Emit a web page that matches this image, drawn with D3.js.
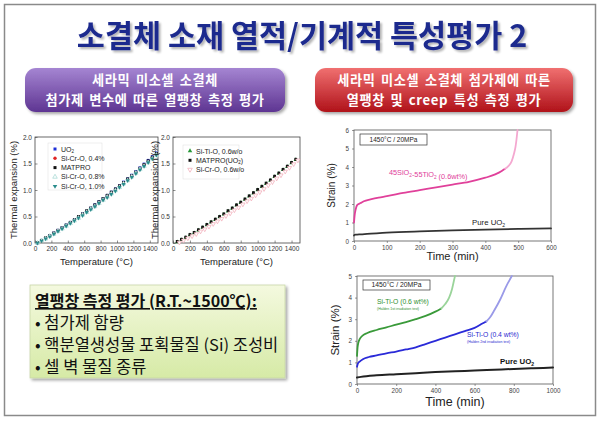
<!DOCTYPE html>
<html><head><meta charset="utf-8">
<script src="https://cdn.jsdelivr.net/npm/d3@7"></script>
<style>
html,body{margin:0;padding:0;background:#fff;}
svg{display:block;}
</style>
</head><body>
<svg id="c" width="604" height="424"></svg>
<script>
// ---------- texts ----------
const titleText = "소결체 소재 열적/기계적 특성평가 2";
const leftButton = ["세라믹 미소셀 소결체", "첨가제 변수에 따른 열팽창 측정 평가"];
const rightButton = ["세라믹 미소셀 소결체 첨가제에 따른", "열팽창 및 creep 특성 측정 평가"];
const boxHeader = "열팽창 측정 평가 (R.T.~1500℃):";
const boxBullets = ["첨가제 함량", "핵분열생성물 포획물질 (Si) 조성비", "셀 벽 물질 종류"];

// ---------- thermal expansion chart 1 ----------
const thermTicksX = [0, 200, 400, 600, 800, 1000, 1200, 1400];
const thermTicksY = [0.0, 0.5, 1.0, 1.5, 2.0];
const thermT1 = [30,80,130,180,230,280,330,380,430,480,530,580,630,680,730,780,830,880,930,980,1030,1080,1130,1180,1230,1280,1330,1380,1430,1480];
const expUO2      = [0.00,0.05,0.09,0.14,0.19,0.24,0.29,0.34,0.39,0.44,0.49,0.55,0.60,0.66,0.72,0.78,0.84,0.90,0.96,1.02,1.08,1.15,1.21,1.28,1.35,1.42,1.49,1.56,1.63,1.70];
const expSiCr04   = [0.00,0.04,0.09,0.13,0.18,0.23,0.28,0.33,0.38,0.43,0.48,0.54,0.59,0.65,0.70,0.76,0.82,0.88,0.94,1.00,1.07,1.13,1.19,1.26,1.33,1.40,1.47,1.54,1.61,1.68];
const expMATPRO   = [0.01,0.05,0.10,0.14,0.19,0.24,0.29,0.34,0.39,0.44,0.50,0.55,0.61,0.66,0.72,0.78,0.84,0.90,0.96,1.02,1.08,1.14,1.21,1.27,1.34,1.41,1.48,1.55,1.62,1.69];
const expSiCr08   = [0.00,0.04,0.08,0.13,0.17,0.22,0.27,0.32,0.37,0.42,0.47,0.53,0.58,0.64,0.69,0.75,0.81,0.87,0.93,0.99,1.05,1.12,1.18,1.25,1.32,1.39,1.45,1.52,1.59,1.66];
const expSiCr10   = [0.00,0.04,0.08,0.12,0.17,0.22,0.27,0.32,0.37,0.42,0.47,0.52,0.58,0.63,0.69,0.75,0.81,0.86,0.92,0.98,1.05,1.11,1.18,1.24,1.31,1.38,1.45,1.52,1.59,1.66];
const legend1 = ["UO2", "Si-Cr-O, 0.4%", "MATPRO", "Si-Cr-O, 0.8%", "Si-Cr-O, 1.0%"];

// ---------- thermal expansion chart 2 ----------
const thermT2a = [50,100,150,200,250,300,350,400,450,500,550,600,650,700,750,800,850,900,950,1000,1050,1100,1150,1200,1250,1300,1350,1400,1450];
const expMATPRO2 = [0.03,0.07,0.11,0.16,0.20,0.25,0.30,0.35,0.40,0.45,0.50,0.55,0.61,0.66,0.72,0.77,0.83,0.89,0.95,1.01,1.07,1.13,1.19,1.26,1.32,1.39,1.45,1.52,1.58];
const expSiTi06  = [0.02,0.06,0.10,0.15,0.19,0.24,0.29,0.34,0.39,0.44,0.49,0.54,0.60,0.65,0.71,0.76,0.82,0.88,0.94,1.00,1.06,1.12,1.18,1.25,1.31,1.38,1.44,1.51,1.57];
const thermT2b = [75,125,175,225,275,325,375,425,475,525,575,625,675,725,775,825,875,925,975,1025,1075,1125,1175,1225,1275,1325,1375,1425,1475];
const expSiCr06  = [0.01,0.05,0.09,0.13,0.17,0.22,0.26,0.31,0.36,0.41,0.46,0.51,0.56,0.62,0.67,0.73,0.79,0.84,0.90,0.96,1.02,1.09,1.15,1.22,1.28,1.35,1.42,1.49,1.56];
const legend2 = ["Si-Ti-O, 0.6w/o", "MATPRO(UO2)", "Si-Cr-O, 0.6w/o"];

// ---------- creep chart 1 ----------
const creep1TicksX = [0, 100, 200, 300, 400, 500, 600];
const creep1TicksY = [0, 1, 2, 3, 4, 5, 6];
const c1TimeSiTi = [0,2,5,10,20,30,50,75,100,150,200,250,300,350,400,430,450,460];
const c1StrSiTi  = [1.0,1.4,1.7,1.95,2.05,2.15,2.25,2.35,2.42,2.6,2.75,2.9,3.05,3.2,3.42,3.6,3.78,3.9];
const c1TimeSiTiTail = [460,470,480,487,492,495,498];
const c1StrSiTiTail  = [3.9,4.05,4.3,4.7,5.1,5.5,6.0];
const c1TimeUO2 = [0,1,5,20,40,100,200,300,400,500,600];
const c1StrUO2  = [0.3,0.32,0.34,0.36,0.38,0.45,0.52,0.57,0.61,0.65,0.68];

// ---------- creep chart 2 ----------
const creep2TicksX = [0, 200, 400, 600, 800, 1000];
const creep2TicksY = [0, 1, 2, 3, 4, 5];
const c2TimeG = [0,3,8,15,30,50,100,150,200,250,300,350,400,430];
const c2StrG  = [1.3,1.7,1.95,2.1,2.25,2.35,2.5,2.62,2.75,2.87,3.0,3.15,3.35,3.5];
const c2TimeGTail = [430,450,470,485,495,500];
const c2StrGTail  = [3.5,3.7,4.0,4.4,4.8,5.0];
const c2TimeB = [0,5,15,30,60,100,150,200,250,300,350,400,450,500,550,600,640,660];
const c2StrB  = [0.8,0.95,1.05,1.15,1.25,1.32,1.42,1.5,1.6,1.7,1.85,2.0,2.15,2.3,2.45,2.6,2.8,2.9];
const c2TimeBTail = [660,680,700,730,760,790];
const c2StrBTail  = [2.9,3.1,3.4,3.9,4.5,5.0];
const c2TimeK = [0,20,100,200,300,400,500,600,700,800,900,1000];
const c2StrK  = [0.3,0.33,0.4,0.45,0.5,0.55,0.59,0.62,0.66,0.7,0.73,0.76];

const svg = d3.select("#c");
const KR = "'Noto Sans CJK KR','Noto Sans',sans-serif";
const AR = "'Liberation Sans',Arial,sans-serif";
const defs = svg.append("defs");

// slide border
svg.append("rect").attr("x",4.5).attr("y",4.5).attr("width",591).attr("height",411)
  .attr("fill","#fff").attr("stroke","#8a8a8a").attr("stroke-width",1.5);

// title
const tf = defs.append("filter").attr("id","tshadow").attr("x","-5%").attr("y","-20%").attr("width","110%").attr("height","150%");
tf.append("feGaussianBlur").attr("in","SourceAlpha").attr("stdDeviation",0.8);
tf.append("feOffset").attr("dx",1.5).attr("dy",1.5).attr("result","ob");
tf.append("feComponentTransfer").append("feFuncA").attr("type","linear").attr("slope",0.3);
const tfm = tf.append("feMerge"); tfm.append("feMergeNode"); tfm.append("feMergeNode").attr("in","SourceGraphic");
svg.append("text").attr("x",302).attr("y",47).attr("text-anchor","middle")
  .attr("font-family",KR).attr("font-weight","bold").attr("font-size",30.5)
  .attr("fill","#1e2b8e").attr("filter","url(#tshadow)").text(titleText);

// buttons
function gradient(id, c1, c2){
  const g = defs.append("linearGradient").attr("id",id).attr("x1",0).attr("x2",0).attr("y1",0).attr("y2",1);
  g.append("stop").attr("offset","0%").attr("stop-color",c1);
  g.append("stop").attr("offset","100%").attr("stop-color",c2);
}
gradient("gPurple","#a585d2","#5e3592");
gradient("gRed","#f07070","#b0121a");
gradient("gGreen","#f4f9df","#d6eaa6");
const sh = defs.append("filter").attr("id","shadow").attr("x","-10%").attr("y","-10%").attr("width","130%").attr("height","140%");
sh.append("feGaussianBlur").attr("in","SourceAlpha").attr("stdDeviation",1.5);
sh.append("feOffset").attr("dx",1.5).attr("dy",2).attr("result","ob");
sh.append("feComponentTransfer").append("feFuncA").attr("type","linear").attr("slope",0.35);
const fm = sh.append("feMerge"); fm.append("feMergeNode"); fm.append("feMergeNode").attr("in","SourceGraphic");

function button(x,y,w,h,fill,lines,b1,gap){
  svg.append("rect").attr("x",x).attr("y",y).attr("width",w).attr("height",h).attr("rx",11)
    .attr("fill",`url(#${fill})`).attr("filter","url(#shadow)");
  lines.forEach((s,i)=>{
    svg.append("text").attr("x",x+w/2).attr("y",b1+i*gap).attr("text-anchor","middle")
      .attr("font-family",KR).attr("font-weight","bold").attr("font-size",13.2)
      .attr("letter-spacing",0.6).attr("word-spacing",2).attr("fill","#fff").text(s);
  });
}
button(25,68,260,44,"gPurple",leftButton,85,19.6);
button(315,68,258,44,"gRed",rightButton,85,19.6);

// green box
svg.append("rect").attr("x",30).attr("y",285).attr("width",255).attr("height",93)
  .attr("fill","url(#gGreen)").attr("stroke","#c9d6a8").attr("stroke-width",0.8).attr("filter","url(#shadow)");
svg.append("text").attr("x",35).attr("y",307).attr("font-family",KR).attr("font-weight","bold")
  .attr("font-size",16).attr("fill","#111").attr("text-decoration","underline").text(boxHeader);
boxBullets.forEach((t,i)=>{
  svg.append("text").attr("x",35).attr("y",329+i*22).attr("font-family",KR)
    .attr("font-size",16.5).attr("fill","#111").text("• " + t);
});

// ---------- thermal chart helper ----------
function sym(type,size){ return d3.symbol().type(type).size(size)(); }
function drawThermal(x0,x1,y0,y1,series,legend,lx,ly,lw,lh,labelX){
  const x = d3.scaleLinear().domain([0,1500]).range([x0,x1]);
  const y = d3.scaleLinear().domain([0,2]).range([y1,y0]);
  const g = svg.append("g");
  g.append("rect").attr("x",x0).attr("y",y0).attr("width",x1-x0).attr("height",y1-y0)
    .attr("fill","none").attr("stroke","#444").attr("stroke-width",0.8);
  const ax = g.append("g").attr("transform",`translate(0,${y1})`)
    .call(d3.axisBottom(x).tickValues(thermTicksX).tickSize(-2.5).tickPadding(3).tickFormat(d3.format("d")));
  const ay = g.append("g").attr("transform",`translate(${x0},0)`)
    .call(d3.axisLeft(y).tickValues(thermTicksY).tickSize(-2.5).tickPadding(3).tickFormat(d3.format(".1f")));
  [ax,ay].forEach(a=>{
    a.select(".domain").remove();
    a.selectAll("line").attr("stroke","#444").attr("stroke-width",0.6);
    a.selectAll("text").attr("font-family",AR).attr("font-size",6.5).attr("fill","#333");
  });
  series.forEach(s=>{
    g.append("g").selectAll("path").data(s.t).join("path")
      .attr("transform",(d,i)=>`translate(${x(d)},${y(s.v[i])}) rotate(${s.rot||0})`)
      .attr("d",sym(s.shape,s.size||8))
      .attr("fill",s.open?"#fff":s.color).attr("stroke",s.open?s.color:"none").attr("stroke-width",0.7);
  });
  g.append("rect").attr("x",lx).attr("y",ly).attr("width",lw).attr("height",lh)
    .attr("fill","#fff").attr("stroke","#ddd").attr("stroke-width",0.5);
  legend.forEach((name,i)=>{
    const s = series[i];
    const yy = ly+6+i*9.3;
    g.append("path").attr("transform",`translate(${lx+7},${yy}) rotate(${s.rot||0})`)
      .attr("d",sym(s.shape,9)).attr("fill",s.open?"#fff":s.color)
      .attr("stroke",s.open?s.color:"none").attr("stroke-width",0.7);
    const t = g.append("text").attr("x",lx+13).attr("y",yy+2.5).attr("font-family",AR)
      .attr("font-size",7).attr("fill","#222");
    const m = name.match(/^(.*)UO2(.*)$/);
    if(m){
      t.append("tspan").text(m[1]+"UO");
      t.append("tspan").attr("font-size",4.5).attr("dy",1.5).text("2");
      t.append("tspan").attr("dy",-1.5).text(m[2]);
    } else t.text(name);
  });
  g.append("text").attr("transform",`translate(${labelX},${(y0+y1)/2}) rotate(-90)`)
    .attr("text-anchor","middle").attr("font-family",AR).attr("font-size",9.5).attr("fill","#222")
    .text("Thermal expansion (%)");
  g.append("text").attr("x",(x0+x1)/2).attr("y",y1+22).attr("text-anchor","middle")
    .attr("font-family",AR).attr("font-size",9.5).attr("fill","#222").text("Temperature (°C)");
}

const S1 = [
  {t:thermT1,v:expUO2,shape:d3.symbolSquare,color:"#1d2fd8"},
  {t:thermT1,v:expSiCr04,shape:d3.symbolCircle,color:"#e02424"},
  {t:thermT1,v:expMATPRO,shape:d3.symbolSquare,color:"#111"},
  {t:thermT1,v:expSiCr08,shape:d3.symbolTriangle,color:"#9fd6d0",open:true},
  {t:thermT1,v:expSiCr10,shape:d3.symbolTriangle,color:"#2a8c8c",rot:180}
];
drawThermal(35,158,137,243,S1,legend1,48,143,54,47,17);

const S2 = [
  {t:thermT2a,v:expSiTi06,shape:d3.symbolTriangle,color:"#2a9a3a"},
  {t:thermT2a,v:expMATPRO2,shape:d3.symbolSquare,color:"#111"},
  {t:thermT2b,v:expSiCr06,shape:d3.symbolTriangle,color:"#f0a8b4",open:true,rot:180}
];
drawThermal(173,300,137,243,S2,legend2,183,145,56,34,158);

// ---------- creep chart helper ----------
function drawCreep(x0,x1,y0,y1,xmax,ymax,tx,ty,strainX,strainSize,timeSize,timeY){
  const x = d3.scaleLinear().domain([0,xmax]).range([x0,x1]);
  const y = d3.scaleLinear().domain([0,ymax]).range([y1,y0]);
  const g = svg.append("g");
  g.append("rect").attr("x",x0).attr("y",y0).attr("width",x1-x0).attr("height",y1-y0)
    .attr("fill","none").attr("stroke","#555").attr("stroke-width",0.8);
  const ax = g.append("g").attr("transform",`translate(0,${y1})`)
    .call(d3.axisBottom(x).tickValues(tx).tickSize(2).tickPadding(3).tickFormat(d3.format("d")));
  const ay = g.append("g").attr("transform",`translate(${x0},0)`)
    .call(d3.axisLeft(y).tickValues(ty).tickSize(2).tickPadding(3).tickFormat(d3.format("d")));
  [ax,ay].forEach(a=>{
    a.select(".domain").remove();
    a.selectAll("line").attr("stroke","#555").attr("stroke-width",0.6);
    a.selectAll("text").attr("font-family",AR).attr("font-size",6.3).attr("fill","#444");
  });
  g.append("text").attr("transform",`translate(${strainX},${(y0+y1)/2}) rotate(-90)`)
    .attr("text-anchor","middle").attr("font-family",AR).attr("font-size",strainSize).attr("fill","#222")
    .text("Strain (%)");
  g.append("text").attr("x",(x0+x1)/2).attr("y",timeY).attr("text-anchor","middle")
    .attr("font-family",AR).attr("font-size",timeSize).attr("fill","#222").text("Time (min)");
  return {x,y,g};
}
function curve(c,ts,vs,color,w){
  const line = d3.line().x((d,i)=>c.x(ts[i])).y((d,i)=>c.y(vs[i])).curve(d3.curveMonotoneX);
  c.g.append("path").attr("d",line(ts)).attr("fill","none").attr("stroke",color)
    .attr("stroke-width",w).attr("stroke-linejoin","round").attr("stroke-linecap","round");
}
function condBox(c,x,y,w,h,size){
  c.g.append("rect").attr("x",x).attr("y",y).attr("width",w).attr("height",h)
    .attr("fill","#fff").attr("stroke","#333").attr("stroke-width",0.7);
  c.g.append("text").attr("x",x+w/2).attr("y",y+h/2+size*0.35).attr("text-anchor","middle")
    .attr("font-family",AR).attr("font-size",size).attr("fill","#222").text("1450°C / 20MPa");
}
function subLabel(c,x,y,parts,size,color,weight){
  const t = c.g.append("text").attr("x",x).attr("y",y).attr("font-family",AR)
    .attr("font-size",size).attr("fill",color).attr("font-weight",weight||"normal");
  parts.forEach(p=>{
    if(p.sub){ t.append("tspan").attr("font-size",size*0.65).attr("dy",size*0.25).text(p.s);
               t.append("tspan").attr("dy",-size*0.25).text(""); }
    else t.append("tspan").text(p.s);
  });
}

// creep 1
const cr1 = drawCreep(354,551,130,241,600,6,creep1TicksX,creep1TicksY,335,10,11,260);
condBox(cr1,360,134,67,11,6.5);
curve(cr1,c1TimeUO2,c1StrUO2,"#333",1.8);
curve(cr1,c1TimeSiTi,c1StrSiTi,"#e0409a",1.8);
curve(cr1,c1TimeSiTiTail,c1StrSiTiTail,"#f4a8d0",1.8);
subLabel(cr1,389,175,[{s:"45SiO"},{s:"2",sub:true},{s:"-55TiO"},{s:"2",sub:true},{s:" (0.6wt%)"}],7.3,"#e0409a");
subLabel(cr1,472,225,[{s:"Pure UO"},{s:"2",sub:true}],7.8,"#222");

// creep 2
const cr2 = drawCreep(357,553,276,384,1000,5,creep2TicksX,creep2TicksY,339,11.5,12.5,406);
condBox(cr2,363,280,67,10,6.8);
curve(cr2,c2TimeK,c2StrK,"#222",2);
curve(cr2,c2TimeB,c2StrB,"#2a2ad8",1.8);
curve(cr2,c2TimeBTail,c2StrBTail,"#9a9ae8",1.8);
curve(cr2,c2TimeG,c2StrG,"#3a9a3a",1.8);
curve(cr2,c2TimeGTail,c2StrGTail,"#9ad49a",1.8);
subLabel(cr2,377,304,[{s:"Si-Ti-O (0.6 wt%)"}],6.8,"#2f8f2f");
subLabel(cr2,377,310,[{s:"(Halden 1st irradiation test)"}],3.5,"#2f8f2f");
subLabel(cr2,467,337,[{s:"Si-Ti-O (0.4 wt%)"}],6.8,"#2a2ad0");
subLabel(cr2,467,343,[{s:"(Halden 2nd irradiation test)"}],3.5,"#2a2ad0");
subLabel(cr2,500,364,[{s:"Pure UO"},{s:"2",sub:true}],7.8,"#111","bold");
</script>
</body></html>
